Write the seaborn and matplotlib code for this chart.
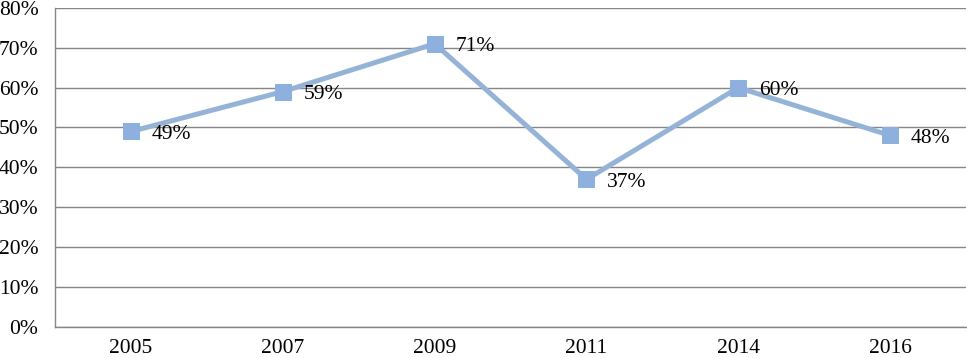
import pandas as pd
import matplotlib.pyplot as plt
import seaborn as sns
from matplotlib.ticker import FuncFormatter

years = ['2005', '2007', '2009', '2011', '2014', '2016']
values = [49, 59, 71, 37, 60, 48]
labels = ['49%', '59%', '71%', '37%', '60%', '48%']

df = pd.DataFrame({'Year': years, 'Value': values})

sns.set_style('white')
plt.rcParams['font.family'] = ['Liberation Serif', 'DejaVu Serif']
plt.rcParams['font.size'] = 15.5

fig = plt.figure(figsize=(9.67, 3.58), dpi=100)
ax = fig.add_axes([0.057, 0.087, 0.942, 0.891])

sns.lineplot(x='Year', y='Value', data=df, ax=ax, color='#95B3D7',
             linewidth=3.6, marker='s', markersize=11,
             markerfacecolor='#8EB0DE', markeredgecolor='#8EB0DE', sort=False)

for i, (v, t) in enumerate(zip(values, labels)):
    ax.annotate(t, (i, v), xytext=(15, -2), textcoords='offset points',
                ha='left', va='center', fontsize=15.5, color='black')

ax.set_xlim(-0.5, len(years) - 0.5)
ax.set_ylim(0, 80)
ax.set_yticks(range(0, 81, 10))
ax.yaxis.set_major_formatter(FuncFormatter(lambda v, p: f'{int(v)}%'))
ax.grid(axis='y', color='#868686', linewidth=1)
ax.set_axisbelow(True)
ax.set_xlabel('')
ax.set_ylabel('')
ax.tick_params(axis='y', length=0, labelsize=15.5, colors='black', pad=12)
ax.tick_params(axis='x', length=0, labelsize=15.5, colors='black', pad=9)

for s in ['top', 'right']:
    ax.spines[s].set_visible(False)
for s in ['left', 'bottom']:
    ax.spines[s].set_color('#868686')
    ax.spines[s].set_linewidth(1)

plt.savefig('out.png', dpi=100)
